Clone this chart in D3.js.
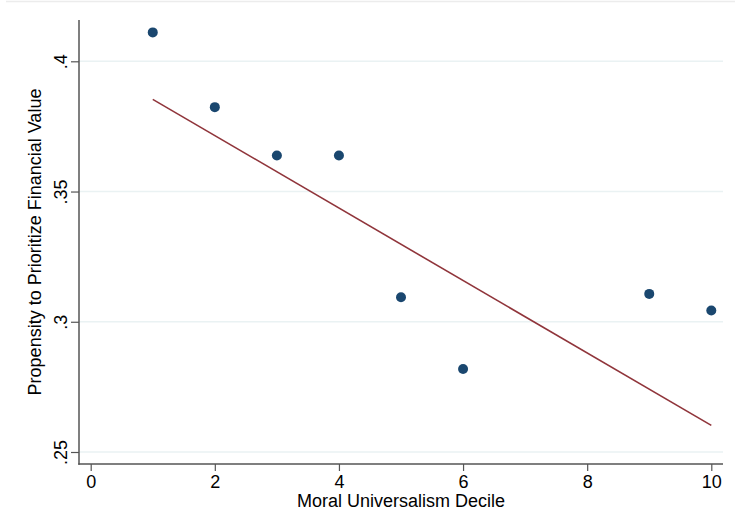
<!DOCTYPE html>
<html>
<head>
  <meta charset="utf-8">
  <style>
    body { margin: 0; background: #fff; }
    svg { display: block; font-family: "Liberation Sans", Arial, sans-serif; }
  </style>
</head>
<body>
  <div id="chart"></div>
  <script src="https://d3js.org/d3.v7.min.js"></script>
  <script>
    // decile means
    var deciles = [1, 2, 3, 4, 5, 6, 9, 10];
    var propensity = [0.4111, 0.3824, 0.3638, 0.3638, 0.3094, 0.2819, 0.3107, 0.3043];

    // fitted line end points
    var fitX = [1, 10];
    var fitY = [0.3854, 0.2602];

    var xTicks = [0, 2, 4, 6, 8, 10];
    var yTicks = [0.25, 0.3, 0.35, 0.4];
    var yTickLabels = [".25", ".3", ".35", ".4"];

    var W = 735, H = 518;
    var plot = {left: 79, right: 723, top: 20, bottom: 464};

    var svg = d3.select("#chart").append("svg")
        .attr("width", W)
        .attr("height", H);

    // faint outer border line at top
    svg.append("line")
        .attr("x1", 6).attr("x2", W)
        .attr("y1", 1.5).attr("y2", 1.5)
        .attr("stroke", "#ececec")
        .attr("stroke-width", 1.5);

    var x = d3.scaleLinear().domain([0, 10]).range([90.7, 711.3]);
    var y = d3.scaleLinear().domain([0.25, 0.4]).range([452, 61.3]);

    // gridlines
    svg.append("g")
        .selectAll("line")
        .data(yTicks)
        .join("line")
        .attr("x1", plot.left)
        .attr("x2", plot.right)
        .attr("y1", d => y(d))
        .attr("y2", d => y(d))
        .attr("stroke", "#eaf2f3")
        .attr("stroke-width", 1.5);

    // y axis
    var yAxis = d3.axisLeft(y)
        .tickValues(yTicks)
        .tickSize(8)
        .tickFormat((d, i) => yTickLabels[i]);

    var gy = svg.append("g")
        .attr("transform", "translate(" + plot.left + ",0)")
        .call(yAxis);
    gy.select(".domain").remove();
    gy.append("line")
        .attr("x1", 0).attr("x2", 0)
        .attr("y1", plot.top).attr("y2", plot.bottom + 0.75)
        .attr("stroke", "#555")
        .attr("stroke-width", 1.5);
    gy.selectAll(".tick line").attr("stroke", "#555").attr("stroke-width", 1.2);
    gy.selectAll(".tick text")
        .attr("x", null).attr("dy", null)
        .attr("transform", "translate(-12,0) rotate(-90)")
        .attr("text-anchor", "middle")
        .attr("fill", "#000")
        .style("font-size", "18px")
        .style("font-family", "'Liberation Sans', Arial, sans-serif");

    // x axis
    var xAxis = d3.axisBottom(x)
        .tickValues(xTicks)
        .tickSize(7);

    var gx = svg.append("g")
        .attr("transform", "translate(0," + plot.bottom + ")")
        .call(xAxis);
    gx.select(".domain").remove();
    gx.append("line")
        .attr("x1", plot.left - 0.75).attr("x2", plot.right)
        .attr("y1", 0).attr("y2", 0)
        .attr("stroke", "#555")
        .attr("stroke-width", 1.5);
    gx.selectAll(".tick line").attr("stroke", "#555").attr("stroke-width", 1.2);
    gx.selectAll(".tick text")
        .attr("y", 24).attr("dy", null)
        .attr("fill", "#000")
        .style("font-size", "18px")
        .style("font-family", "'Liberation Sans', Arial, sans-serif");

    // axis titles
    svg.append("text")
        .attr("x", (plot.left + plot.right) / 2)
        .attr("y", 507)
        .attr("text-anchor", "middle")
        .style("font-size", "18px")
        .text("Moral Universalism Decile");

    svg.append("text")
        .attr("transform", "translate(41," + ((plot.top + plot.bottom) / 2) + ") rotate(-90)")
        .attr("text-anchor", "middle")
        .style("font-size", "18px")
        .text("Propensity to Prioritize Financial Value");

    // fitted line
    var line = d3.line()
        .x(d => x(d[0]))
        .y(d => y(d[1]));

    svg.append("path")
        .datum(d3.zip(fitX, fitY))
        .attr("d", line)
        .attr("fill", "none")
        .attr("stroke", "#90353b")
        .attr("stroke-width", 1.6);

    // points
    svg.append("g")
        .selectAll("circle")
        .data(d3.zip(deciles, propensity))
        .join("circle")
        .attr("cx", d => x(d[0]))
        .attr("cy", d => y(d[1]))
        .attr("r", 5)
        .attr("fill", "#1a476f");
  </script>
</body>
</html>
